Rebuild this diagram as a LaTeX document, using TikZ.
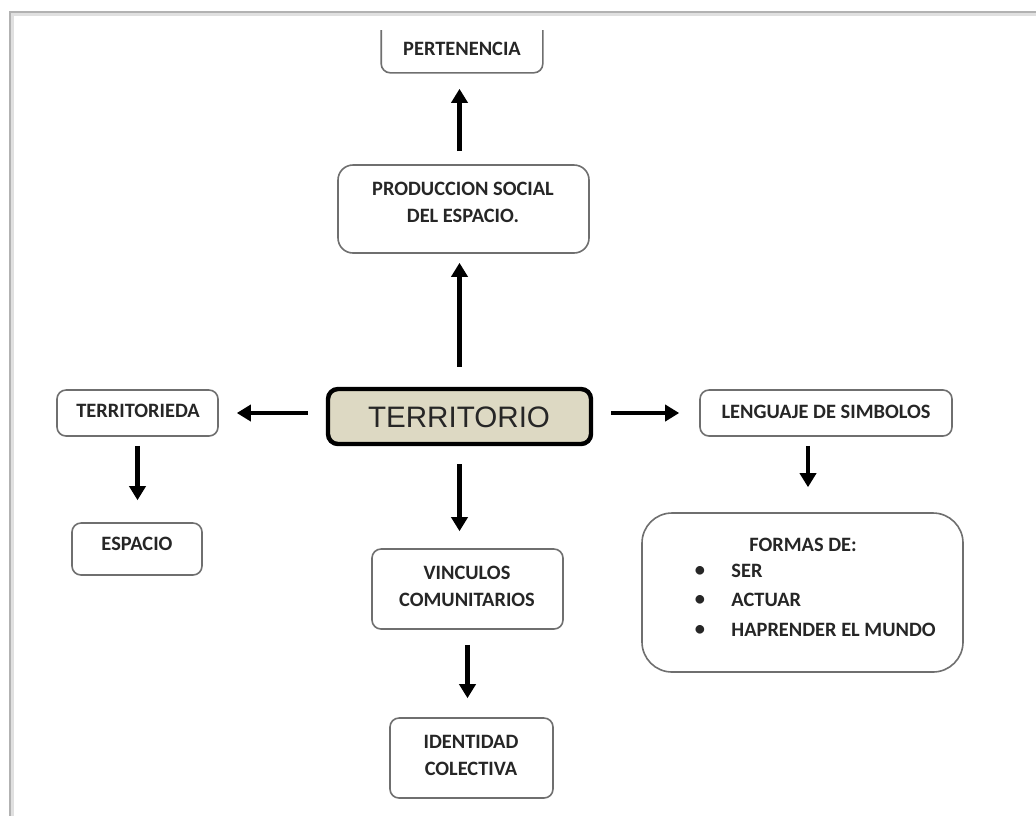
\documentclass[tikz,border=0pt]{standalone}
\usepackage{fontspec}
\setmainfont{Carlito}
\newfontfamily\arialf{Liberation Sans}
\usetikzlibrary{arrows.meta,fit,calc}
\definecolor{tanfill}{HTML}{DDD9C3}
\definecolor{bordergray}{HTML}{6F6F6F}
\definecolor{txt}{HTML}{262626}
\begin{document}
\begin{tikzpicture}[x=0.5pt,y=-0.5pt,
  box/.style={draw=bordergray, line width=0.8pt, rounded corners=4.5pt, inner sep=0pt},
  lbl/.style={font=\fontsize{10.2}{13.5}\selectfont\bfseries, text=txt, align=center, inner sep=0pt},
  arr/.style={line width=2.1pt, black, -{Triangle[length=7pt,width=8pt]}}]
\useasboundingbox (0,0) rectangle (1036,816);
\fill[white] (0,0) rectangle (1036,816);
% page frame with soft shadow
\draw[black!12, line width=2pt] (1036,14) -- (12,14) -- (12,816);
\draw[black!30, line width=0.8pt] (1036,12) -- (10,12) -- (10,816);

% nodes
\node[box, draw=none, fit={(382,31) (542,72)}] (pert) {};
\draw[bordergray, line width=0.8pt, rounded corners=4.5pt] (pert.north west) -- (pert.south west) -- (pert.south east) -- (pert.north east);
\node[lbl] (pertt) at (462,49) {PERTENENCIA};

\node[box, rounded corners=7.5pt, fit={(338,165) (589,253)}] (prod) {};
\node[lbl] (prodt) at (463,202.5) {PRODUCCION SOCIAL\\DEL ESPACIO.};

\node[box, draw=black, line width=2.2pt, rounded corners=5pt, fill=tanfill, fit={(328,389) (591,444)}] (terr) {};
\node[font=\arialf\fontsize{14.8}{16}\selectfont, text=txt, inner sep=0pt] (terrt) at (459,417) {TERRITORIO};

\node[box, fit={(57,390) (218,436)}] (tda) {};
\node[lbl] (tdat) at (138,411) {TERRITORIEDA};

\node[box, fit={(72,523) (202,575)}] (esp) {};
\node[lbl] (espt) at (137,544) {ESPACIO};

\node[box, fit={(700,390) (952,436)}] (leng) {};
\node[lbl] (lengt) at (826,412) {LENGUAJE DE SIMBOLOS};

\node[box, rounded corners=15pt, fit={(642,513) (963,672)}] (formas) {};
\node[lbl] (formt) at (803,545) {FORMAS DE:};
\node[lbl] (b1) at (700,571) {\textbullet};
\node[lbl] (b2) at (700,600) {\textbullet};
\node[lbl] (b3) at (700,630) {\textbullet};
\node[lbl, anchor=west] (f1) at (731,571) {SER};
\node[lbl, anchor=west] (f2) at (731,600) {ACTUAR};
\node[lbl, anchor=west] (f3) at (731,630) {HAPRENDER EL MUNDO};

\node[box, fit={(372,549) (563,629)}] (vinc) {};
\node[lbl] (vinct) at (467,586.5) {VINCULOS\\COMUNITARIOS};

\node[box, fit={(390,718) (553,798)}] (ident) {};
\node[lbl] (identt) at (471,755) {IDENTIDAD\\COLECTIVA};

% connectors
\draw[arr, shorten <=10pt, shorten >=4.5pt] (terr.north) -- (terr.north |- prod.south);
\draw[arr, shorten <=6.5pt, shorten >=8pt] (terr.north |- prod.north) -- (terr.north |- pert.south);
\draw[arr, shorten <=9pt, shorten >=9pt] (terr.west |- tda.east) -- (tda.east);
\draw[arr, shorten <=4.5pt, shorten >=11pt] (tda.south) -- (tda.south |- esp.north);
\draw[arr, shorten <=9pt, shorten >=10pt] (terr.east |- leng.west) -- (leng.west);
\draw[arr, shorten <=4.5pt, shorten >=12.5pt] ($(leng.south)+(-18,0)$) -- ($(leng.south |- formas.north)+(-18,0)$);
\draw[arr, shorten <=9pt, shorten >=8.5pt] (terr.south) -- (terr.south |- vinc.north);
\draw[arr, shorten <=7.5pt, shorten >=9.5pt] (vinc.south) -- (vinc.south |- ident.north);
\end{tikzpicture}
\end{document}
